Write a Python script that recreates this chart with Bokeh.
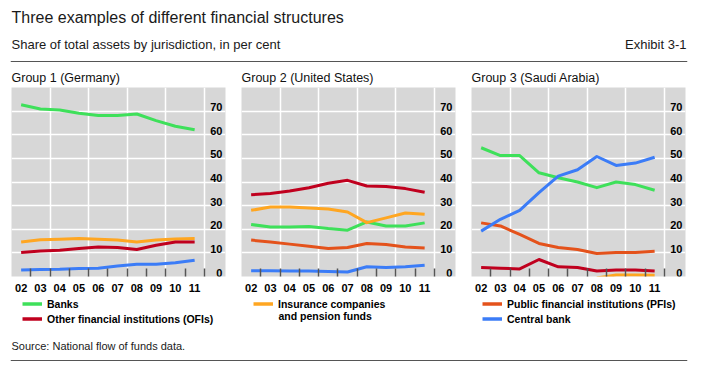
from bokeh.plotting import figure
from bokeh.models import (Range1d, FixedTicker, Legend, LegendItem,
                          Label, Span, Grid, ColumnDataSource)
from bokeh.core.properties import value
from bokeh.layouts import column, row
from bokeh.embed import file_html
from bokeh.resources import INLINE

nan = float("nan")

# ---------------- data ----------------
years = [2002, 2003, 2004, 2005, 2006, 2007, 2008, 2009, 2010, 2011]
year_labels = ["02", "03", "04", "05", "06", "07", "08", "09", "10", "11"]
y_ticks = [0, 10, 20, 30, 40, 50, 60, 70]
y_tick_labels = ["0", "10", "20", "30", "40", "50", "60", "70"]

# Group 1 (Germany)
ger_banks = [72.7, 70.9, 70.5, 69.1, 68.1, 68.1, 68.8, 66.0, 63.6, 62.1]
ger_ins = [14.6, 15.6, 15.8, 16.1, 15.8, 15.4, 14.6, 15.4, 15.9, 16.1]
ger_ofi = [10.2, 10.8, 11.1, 11.9, 12.5, 12.3, 11.4, 13.2, 14.6, 14.6]
ger_cb = [2.7, 3.0, 3.1, 3.4, 3.5, 4.4, 5.2, 5.2, 5.8, 6.9]

# Group 2 (United States)
us_ofi = [34.6, 35.1, 36.2, 37.6, 39.5, 40.7, 38.3, 38.1, 37.2, 35.7]
us_ins = [28.0, 29.4, 29.4, 29.0, 28.6, 27.3, 22.8, 24.8, 26.9, 26.3]
us_banks = [22.0, 21.0, 21.0, 21.2, 20.3, 19.6, 23.1, 21.4, 21.4, 22.7]
us_pfi = [15.4, 14.6, 13.7, 12.8, 11.9, 12.3, 14.0, 13.5, 12.5, 12.1]
us_cb = [2.4, 2.4, 2.3, 2.3, 2.1, 1.9, 4.1, 3.8, 4.1, 4.8]

# Group 3 (Saudi Arabia)
sa_banks = [54.5, 51.2, 51.2, 43.9, 41.8, 40.0, 37.6, 40.0, 38.9, 36.5]
sa_cb = [19.2, 24.2, 28.0, 35.5, 42.5, 45.2, 50.8, 47.0, 48.0, 50.5]
sa_pfi = [22.7, 21.4, 17.8, 14.0, 12.3, 11.4, 9.7, 10.2, 10.2, 10.7]
sa_ofi = [3.8, 3.5, 3.2, 7.2, 4.1, 3.8, 2.3, 2.7, 2.7, 2.3]
sa_ins = [nan, nan, nan, nan, nan, nan, -0.6, 0.6, 0.6, 0.5]

# ---------------- style ----------------
C_BANKS = "#3ee05a"
C_OFI = "#c0001e"
C_INS = "#ffa621"
C_PFI = "#e4521b"
C_CB = "#3b7cf7"
BG = "#d7d7d7"
FONT = "Liberation Sans"
LABEL_X = 2012.44   # right edge of the value labels inside each panel


def make_panel(series, left_border, right_border):
    p = figure(frame_width=214, frame_height=189,
               x_range=Range1d(2001.5, 2012.6), y_range=Range1d(0, 80),
               min_border_left=left_border, min_border_right=right_border,
               min_border_top=0, min_border_bottom=20,
               background_fill_color=BG, outline_line_color=None,
               y_axis_location=None, output_backend="svg",
               toolbar_location=None)
    # grids
    p.xgrid.ticker = FixedTicker(ticks=[y + 0.5 for y in years[1::2]])
    p.xgrid.grid_line_color = "white"
    p.xgrid.grid_line_width = 1.5
    p.add_layout(Grid(dimension=1, ticker=FixedTicker(ticks=y_ticks[1:]),
                      grid_line_color="white", grid_line_width=1.5))
    # x axis
    xa = p.xaxis[0]
    xa.ticker = FixedTicker(ticks=years, minor_ticks=[y + 0.5 for y in years])
    xa.major_label_overrides = dict(zip(years, year_labels))
    xa.axis_line_color = None
    xa.major_tick_line_color = None
    xa.major_tick_out = 0
    xa.minor_tick_in = 8
    xa.minor_tick_out = 0
    xa.minor_tick_line_color = "#555555"
    xa.minor_tick_line_width = 1.5
    xa.major_label_standoff = 7
    xa.major_label_text_font = FONT
    xa.major_label_text_font_size = "11px"
    xa.major_label_text_font_style = "bold"
    xa.major_label_text_color = "black"
    # value labels inside the panel on the right
    src = ColumnDataSource(dict(x=[LABEL_X] * len(y_ticks), y=y_ticks, t=y_tick_labels))
    p.text(x="x", y="y", text="t", source=src, text_align="right",
           text_baseline="bottom", text_font=value(FONT), text_font_size="11px",
           text_font_style="bold", text_color="black")
    for vals, color in series:
        p.line(years, vals, line_color=color, line_width=3, line_join="round")
    return p


p1 = make_panel([(ger_ins, C_INS), (ger_ofi, C_OFI), (ger_cb, C_CB),
                 (ger_banks, C_BANKS)], 11, 16)
p2 = make_panel([(us_pfi, C_PFI), (us_cb, C_CB), (us_banks, C_BANKS),
                 (us_ins, C_INS), (us_ofi, C_OFI)], 0, 16)
p3 = make_panel([(sa_ins, C_INS), (sa_ofi, C_OFI), (sa_pfi, C_PFI),
                 (sa_banks, C_BANKS), (sa_cb, C_CB)], 0, 10)


def text_fig(h):
    f = figure(width=695, height=h, x_range=Range1d(10, 687), y_range=Range1d(h, 0),
               min_border_left=10, min_border_right=8, min_border_top=0,
               min_border_bottom=0, x_axis_location=None, y_axis_location=None,
               outline_line_color=None, output_backend="svg", toolbar_location=None)
    f.grid.visible = False
    return f


# ---------------- header ----------------
hdr = text_fig(87)
hdr.add_layout(Label(x=11, y=17, text="Three examples of different financial structures",
                     text_baseline="middle", text_font=FONT, text_font_size="16px",
                     text_color="#1a1a1a"))
hdr.add_layout(Label(x=11, y=44, text="Share of total assets by jurisdiction, in per cent",
                     text_baseline="middle", text_font=FONT, text_font_size="13px",
                     text_color="#1a1a1a"))
hdr.add_layout(Label(x=686, y=44, text="Exhibit 3-1", text_align="right",
                     text_baseline="middle", text_font=FONT, text_font_size="13px",
                     text_color="#1a1a1a"))
hdr.add_layout(Span(location=61, dimension="width", line_color="#555555", line_width=1))
for gx, gt in [(11, "Group 1 (Germany)"), (241, "Group 2 (United States)"),
               (471, "Group 3 (Saudi Arabia)")]:
    hdr.add_layout(Label(x=gx, y=77, text=gt, text_baseline="middle", text_font=FONT,
                         text_font_size="12.5px", text_color="#111111"))

# ---------------- footer with legends ----------------
FH = 66
ftr = text_fig(FH)
keys = {}
for key, col in [("banks", C_BANKS), ("ofi", C_OFI), ("ins", C_INS),
                 ("pfi", C_PFI), ("cb", C_CB)]:
    # legend key only: no visible data points in this strip
    keys[key] = ftr.line(x=[nan, nan], y=[nan, nan], line_color=col, line_width=3.5)


def add_legend(items, x, n):
    leg = Legend(items=[LegendItem(label=lab, renderers=[keys[k]]) for k, lab in items],
                 location=(x, FH - 15 * n), margin=0, padding=0, spacing=0,
                 glyph_width=20, glyph_height=15, label_height=15, label_standoff=5,
                 border_line_color=None, background_fill_alpha=0,
                 label_text_font=FONT, label_text_font_size="10.5px",
                 label_text_font_style="bold", label_text_color="black")
    ftr.add_layout(leg)


add_legend([("banks", "Banks"), ("ofi", "Other financial institutions (OFIs)")], 12, 2)
add_legend([("ins", "Insurance companies")], 243, 1)
add_legend([("pfi", "Public financial institutions (PFIs)"), ("cb", "Central bank")], 472, 2)
ftr.add_layout(Label(x=278, y=19, text="and pension funds", text_baseline="middle",
                     text_font=FONT, text_font_size="10.5px", text_font_style="bold",
                     text_color="black"))
ftr.add_layout(Label(x=11, y=49, text="Source: National flow of funds data.",
                     text_baseline="middle", text_font=FONT, text_font_size="11px",
                     text_color="#1a1a1a"))
ftr.add_layout(Span(location=64, dimension="width", line_color="#555555", line_width=1))

layout = column(hdr, row(p1, p2, p3, spacing=0), ftr, spacing=0)

open("out.html", "w").write(file_html(layout, INLINE))
